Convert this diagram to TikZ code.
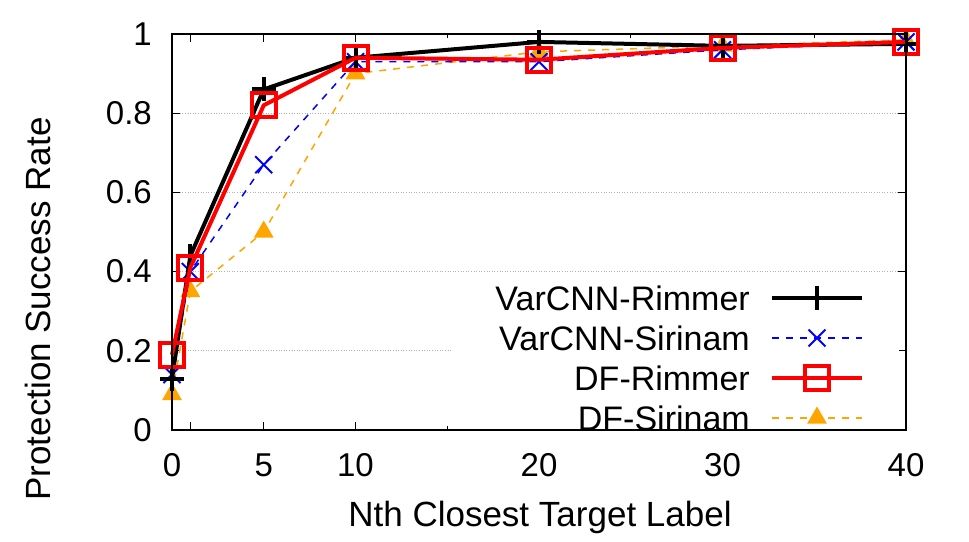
\documentclass[tikz,border=0pt]{standalone}
\usepackage{fontspec}
\setmainfont{Liberation Sans}
\usetikzlibrary{plotmarks}
\definecolor{dforange}{RGB}{255,165,0}
\begin{document}
\begin{tikzpicture}[x=1pt,y=1pt,
  lab/.style={font=\fontsize{33}{36}\selectfont,inner sep=0pt},
  ttl/.style={font=\fontsize{35}{38}\selectfont,inner sep=0pt},
  leg/.style={font=\fontsize{34}{36}\selectfont,inner sep=0pt,anchor=east}]
\useasboundingbox (0,0) rectangle (969,541);
\node[ttl,rotate=90] (yt) at (38,232) {Protection Success Rate};
\node[ttl] (xt) at (540,24) {Nth Closest Target Label};
\begin{scope}[shift={(172,111)},x=18.35pt,y=396pt]
  \foreach \v in {0.2,0.4,0.6,0.8} \draw[gray!60,dotted,line width=0.6pt] (0,\v) -- (40,\v);
  \foreach \v/\t in {0/0,0.2/0.2,0.4/0.4,0.6/0.6,0.8/0.8,1/1}{
    \node[lab,anchor=east] (yl\t) at ([xshift=-20pt]0,\v) {\t};
    \draw[line width=1pt] (0,\v) -- ++(8pt,0);
    \draw[line width=1pt] (40,\v) -- ++(-8pt,0);}
  \foreach \v in {0,1,5,10,20,30,40}{
    \draw[line width=1pt] (\v,0) -- ++(0,8pt);
    \draw[line width=1pt] (\v,1) -- ++(0,-8pt);}
  \foreach \v in {15,25,35}{
    \draw[line width=1pt] (\v,0) -- ++(0,4pt);
    \draw[line width=1pt] (\v,1) -- ++(0,-4pt);}
  \foreach \v in {0,5,10,20,30,40} \node[lab] (xl\v) at ([yshift=-35pt]\v,0) {\v};
  \fill[white] (15.2,-0.02) rectangle (39.6,0.385);
  \draw[dforange,line width=1.5pt,dash pattern=on 7pt off 7pt] plot[mark=triangle*,mark size=10pt,mark options={solid,fill=dforange}] coordinates {(0,0.09)(1,0.35)(5,0.50)(10,0.90)(20,0.955)(30,0.97)(40,0.985)};
  \draw[blue,line width=1.5pt,dash pattern=on 7pt off 7pt] plot[mark=x,mark size=12pt,mark options={solid,line width=2pt}] coordinates {(0,0.14)(1,0.40)(5,0.67)(10,0.93)(20,0.93)(30,0.96)(40,0.98)};
  \draw[black,line width=4pt] plot[mark=+,mark size=12pt,mark options={line width=4pt}] coordinates {(0,0.13)(1,0.44)(5,0.86)(10,0.94)(20,0.98)(30,0.97)(40,0.975)};
  \draw[red,line width=4pt] plot[mark=square,mark size=12pt,mark options={line width=4pt}] coordinates {(0,0.19)(1,0.41)(5,0.82)(10,0.94)(20,0.935)(30,0.965)(40,0.98)};
  \draw[line width=1.5pt] (0,0) rectangle (40,1);
\end{scope}
\node[leg] (l1) at (750,243) {VarCNN-Rimmer};
\node[leg] (l2) at (750,203) {VarCNN-Sirinam};
\node[leg] (l3) at (750,163) {DF-Rimmer};
\node[leg] (l4) at (750,123) {DF-Sirinam};
\draw[black,line width=4pt] plot[mark=+,mark size=12pt,mark options={line width=4pt},mark indices={2}] coordinates {(772,243)(817,243)(862,243)};
\draw[blue,line width=1.5pt,dash pattern=on 7pt off 7pt] plot[mark=x,mark size=12pt,mark options={solid,line width=2pt},mark indices={2}] coordinates {(772,203)(817,203)(862,203)};
\draw[red,line width=4pt] plot[mark=square,mark size=12pt,mark options={line width=4pt},mark indices={2}] coordinates {(772,163)(817,163)(862,163)};
\draw[dforange,line width=1.5pt,dash pattern=on 7pt off 7pt] plot[mark=triangle*,mark size=10pt,mark options={solid,fill=dforange},mark indices={2}] coordinates {(772,123)(817,123)(862,123)};
\end{tikzpicture}
\end{document}
